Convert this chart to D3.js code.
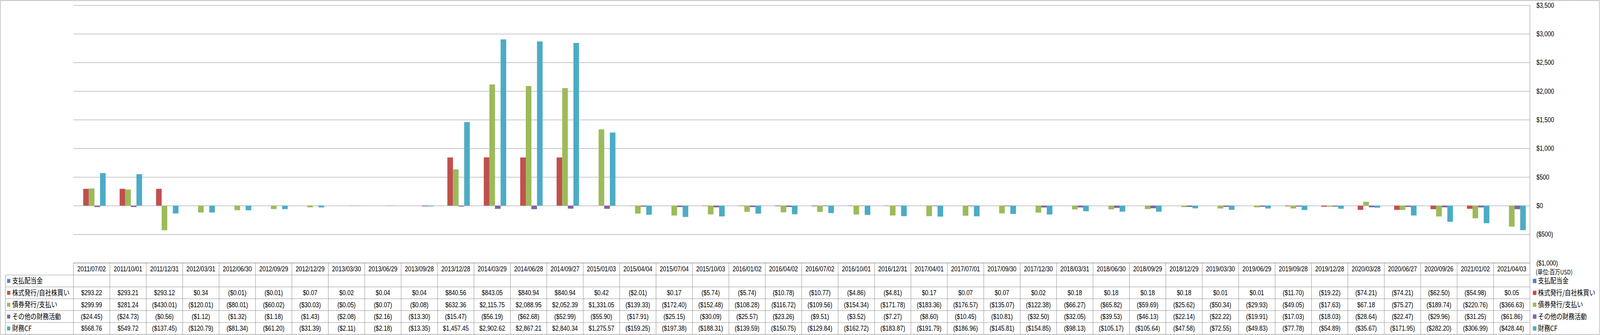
<!DOCTYPE html>
<html>
<head>
<meta charset="utf-8">
<script src="https://cdn.jsdelivr.net/npm/d3@7"></script>
<style>
  html, body { margin: 0; padding: 0; overflow: hidden; background: #ffffff; }
  #chart svg { display: block; width: 100vw; height: 100vh; }
  .numText { font-family: "Liberation Sans", Arial, sans-serif; font-size: 18px; fill: #000000; }
  .jpText { font-family: "Noto Sans CJK JP", sans-serif; fill: #000000; }
</style>
</head>
<body>
<div id="chart"></div>
<script>
// categories: quarter end dates
let arrDates = [
  "2011/07/02", "2011/10/01", "2011/12/31", "2012/03/31", "2012/06/30", "2012/09/29", "2012/12/29", "2013/03/30",
  "2013/06/29", "2013/09/28", "2013/12/28", "2014/03/29", "2014/06/28", "2014/09/27", "2015/01/03", "2015/04/04",
  "2015/07/04", "2015/10/03", "2016/01/02", "2016/04/02", "2016/07/02", "2016/10/01", "2016/12/31", "2017/04/01",
  "2017/07/01", "2017/09/30", "2017/12/30", "2018/03/31", "2018/06/30", "2018/09/29", "2018/12/29", "2019/03/30",
  "2019/06/29", "2019/09/28", "2019/12/28", "2020/03/28", "2020/06/27", "2020/09/26", "2021/01/02", "2021/04/03"
];

// series names (legend + table rows)
let arrSeriesNames = ["支払配当金", "株式発行/自社株買い", "債券発行/支払い", "その他の財務活動", "財務CF"];

// series values (millions USD), null = blank cell
let arrDividends = [
  null, null, null, null, null, null, null, null, null, null, null, null, null, null, null, null, null, null, null, null,
  null, null, null, null, null, null, null, null, null, null, null, null, null, null, null, null, null, null, null, null
];
let arrStock = [
  293.22, 293.21, 293.12, 0.34, -0.01, -0.01, 0.07, 0.02, 0.04, 0.04, 840.56, 843.05, 840.94, 840.94, 0.42, -2.01,
  0.17, -5.74, -5.74, -10.78, -10.77, -4.86, -4.81, 0.17, 0.07, 0.07, 0.02, 0.18, 0.18, 0.18, 0.18, 0.01,
  0.01, -11.70, -19.22, -74.21, -74.21, -62.50, -54.98, 0.05
];
let arrDebt = [
  299.99, 281.24, -430.01, -120.01, -80.01, -60.02, -30.03, -0.05, -0.07, -0.08, 632.36, 2115.75, 2088.95, 2052.39, 1331.05, -139.33,
  -172.40, -152.48, -108.28, -116.72, -109.56, -154.34, -171.78, -183.36, -176.57, -135.07, -122.38, -66.27, -65.82, -59.69, -25.62, -50.34,
  -29.93, -49.05, -17.63, 67.18, -75.27, -189.74, -220.76, -366.63
];
let arrOther = [
  -24.45, -24.73, -0.56, -1.12, -1.32, -1.18, -1.43, -2.08, -2.16, -13.30, -15.47, -56.19, -62.68, -52.99, -55.90, -17.91,
  -25.15, -30.09, -25.57, -23.26, -9.51, -3.52, -7.27, -8.60, -10.45, -10.81, -32.50, -32.05, -39.53, -46.13, -22.14, -22.22,
  -19.91, -17.03, -18.03, -28.64, -22.47, -29.96, -31.25, -61.86
];
let arrFinCF = [
  568.76, 549.72, -137.45, -120.79, -81.34, -61.20, -31.39, -2.11, -2.18, -13.35, 1457.45, 2902.62, 2867.21, 2840.34, 1275.57, -159.25,
  -197.38, -188.31, -139.59, -150.75, -129.84, -162.72, -183.87, -191.79, -186.96, -145.81, -154.85, -98.13, -105.17, -105.64, -47.58, -72.55,
  -49.83, -77.78, -54.89, -35.67, -171.95, -282.20, -306.99, -428.44
];

// axis ticks + unit label
let arrYTicks = [-1000, -500, 0, 500, 1000, 1500, 2000, 2500, 3000, 3500];
let strUnit = "(単位:百万USD)";

let arrSeries = [arrDividends, arrStock, arrDebt, arrOther, arrFinCF];
let arrColors = ["#4F81BD", "#C0504D", "#9BBB59", "#8064A2", "#4BACC6"];

// declare total size of SVG (drawn in these units, stretched to the window)
let intTotalWid = 4981;
let intTotalHgt = 858;

// plot area bounds
let objPlot = { left: 228.6, right: 4763, top: 13.3, bottom: 673.3 };
let numHeadBottom = 704.4;
let numRowHgt = 30.4;
let numTableLeft = 16.5;
let strGrid = "#868686";

let svg = d3.select("#chart")
  .append("svg")
  .attr("viewBox", `0 0 ${intTotalWid} ${intTotalHgt}`)
  .attr("preserveAspectRatio", "none");

// outer chart border
svg.append("rect")
  .attr("x", 1.5).attr("y", 1.5)
  .attr("width", intTotalWid - 3.5).attr("height", intTotalHgt - 3)
  .attr("fill", "none").attr("stroke", "#8c8c8c");

// 1) scales
let fnXScale = d3.scaleBand()
  .domain(arrDates)
  .range([objPlot.left, objPlot.right])
  .padding(0);

let fnSubScale = d3.scaleBand()
  .domain(d3.range(arrSeries.length))
  .range([0, fnXScale.bandwidth()])
  .paddingInner(0)
  .paddingOuter(0.75);

let fnYScale = d3.scaleLinear()
  .domain([-1000, 3500])
  .range([objPlot.bottom, objPlot.top]);

let fnMoney = d3.format("$,.2f");
let fnCell = v => v == null ? "" : (v < 0 ? "(" + fnMoney(-v) + ")" : fnMoney(v));
let fnAxisMoney = d3.format("$,");
let fnAxisLbl = v => v < 0 ? "(" + fnAxisMoney(-v) + ")" : fnAxisMoney(v);

// 2) gridlines
let gGrid = svg.append("g")
  .attr("transform", `translate(${objPlot.right}, 0)`)
  .call(d3.axisRight(fnYScale).tickValues(arrYTicks).tickSize(-(objPlot.right - objPlot.left)).tickFormat(""));
gGrid.select(".domain").remove();
gGrid.selectAll("line").attr("stroke", strGrid);

// 3) right axis labels
let gAxis = svg.append("g")
  .attr("transform", `translate(${objPlot.right}, 0)`)
  .call(d3.axisRight(fnYScale).tickValues(arrYTicks).tickSize(0).tickPadding(20).tickFormat(fnAxisLbl));
gAxis.select(".domain").remove();
gAxis.selectAll("text")
  .attr("class", "numText")
  .attr("font-size", null)
  .attr("font-family", null)
  .attr("fill", d => d < 0 ? "#FF0000" : "#000000");

// 4) bars
arrSeries.forEach((arrVals, s) => {
  let arrData = arrDates.map((d, i) => ({ date: d, val: arrVals[i] })).filter(o => o.val != null);
  svg.append("g")
    .selectAll("rect")
    .data(arrData)
    .enter()
    .append("rect")
    .attr("x", o => fnXScale(o.date) + fnSubScale(s))
    .attr("width", fnSubScale.bandwidth())
    .attr("y", o => fnYScale(Math.max(0, o.val)))
    .attr("height", o => Math.abs(fnYScale(o.val) - fnYScale(0)))
    .attr("fill", arrColors[s]);
});

// 5) data table
let gTable = svg.append("g");
let numTableBottom = numHeadBottom + numRowHgt * arrSeries.length;

// horizontal lines
gTable.append("line")
  .attr("x1", objPlot.left).attr("x2", objPlot.right)
  .attr("y1", objPlot.bottom).attr("y2", objPlot.bottom)
  .attr("stroke", strGrid);
d3.range(arrSeries.length + 1).forEach(r => {
  let y = numHeadBottom + r * numRowHgt;
  gTable.append("line")
    .attr("x1", numTableLeft).attr("x2", objPlot.right)
    .attr("y1", y).attr("y2", y)
    .attr("stroke", strGrid);
});

// vertical lines
gTable.append("line")
  .attr("x1", numTableLeft).attr("x2", numTableLeft)
  .attr("y1", numHeadBottom).attr("y2", numTableBottom)
  .attr("stroke", strGrid);
gTable.selectAll(".colLine")
  .data(arrDates.concat(["end"]))
  .enter()
  .append("line")
  .attr("class", "colLine")
  .attr("x1", (d, i) => i < arrDates.length ? fnXScale(d) : objPlot.right)
  .attr("x2", (d, i) => i < arrDates.length ? fnXScale(d) : objPlot.right)
  .attr("y1", (d, i) => i < arrDates.length ? objPlot.bottom : objPlot.top)
  .attr("y2", numTableBottom)
  .attr("stroke", strGrid);

// header labels
svg.append("g")
  .selectAll("text")
  .data(arrDates)
  .enter()
  .append("text")
  .attr("class", "numText")
  .attr("x", d => fnXScale(d) + fnXScale.bandwidth() / 2)
  .attr("y", (objPlot.bottom + numHeadBottom) / 2)
  .attr("dy", "0.35em")
  .attr("text-anchor", "middle")
  .text(d => d);

// row legend + values
arrSeries.forEach((arrVals, s) => {
  let yMid = numHeadBottom + s * numRowHgt + numRowHgt / 2;
  svg.append("rect")
    .attr("x", 22).attr("y", yMid - 5)
    .attr("width", 10).attr("height", 10)
    .attr("fill", arrColors[s]);
  svg.append("text")
    .attr("class", "jpText")
    .attr("x", 38).attr("y", yMid)
    .attr("dy", "0.36em")
    .attr("font-size", 19)
    .text(arrSeriesNames[s]);
  svg.append("g")
    .selectAll("text")
    .data(arrDates.map((d, i) => ({ date: d, val: arrVals[i] })))
    .enter()
    .append("text")
    .attr("class", "numText")
    .attr("x", o => fnXScale(o.date) + fnXScale.bandwidth() / 2)
    .attr("y", yMid)
    .attr("dy", "0.35em")
    .attr("text-anchor", "middle")
    .text(o => fnCell(o.val));
});

// 6) unit label + right legend
svg.append("text")
  .attr("class", "jpText")
  .attr("x", 4781).attr("y", 697)
  .attr("dy", "0.36em")
  .attr("font-size", 16.5)
  .text(strUnit);

arrSeriesNames.forEach((strName, s) => {
  let yMid = numHeadBottom + s * numRowHgt + numRowHgt / 2;
  svg.append("rect")
    .attr("x", 4772).attr("y", yMid - 5.5)
    .attr("width", 11).attr("height", 11)
    .attr("fill", arrColors[s]);
  svg.append("text")
    .attr("class", "jpText")
    .attr("x", 4788).attr("y", yMid)
    .attr("dy", "0.36em")
    .attr("font-size", 19)
    .text(strName);
});
</script>
</body>
</html>
